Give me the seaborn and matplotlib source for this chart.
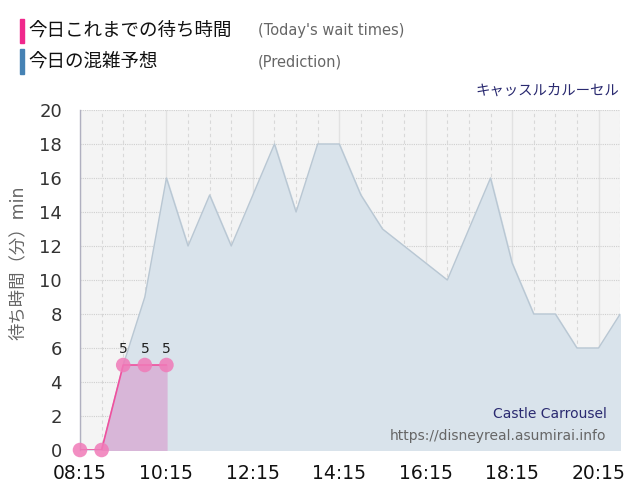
import matplotlib
matplotlib.use("Agg")
import matplotlib.pyplot as plt
import seaborn as sns
import pandas as pd

# prediction every 30 min from 08:15 to 20:45
pred_times = ["08:15", "08:45", "09:15", "09:45", "10:15", "10:45", "11:15", "11:45",
              "12:15", "12:45", "13:15", "13:45", "14:15", "14:45", "15:15", "15:45",
              "16:15", "16:45", "17:15", "17:45", "18:15", "18:45", "19:15", "19:45",
              "20:15", "20:45"]
pred_wait = [0, 0, 5, 9, 16, 12, 15, 12, 15, 18, 14, 18, 18, 15, 13, 12,
             11, 10, 13, 16, 11, 8, 8, 6, 6, 8]

# today's actual wait times
act_times = ["08:15", "08:45", "09:15", "09:45", "10:15"]
act_wait = [0, 0, 5, 5, 5]

tick_labels = ["08:15", "10:15", "12:15", "14:15", "16:15", "18:15", "20:15"]


def to_hours(t):
    h, m = t.split(":")
    return int(h) + int(m) / 60


pred = pd.DataFrame({"x": [to_hours(t) for t in pred_times], "wait": pred_wait})
act = pd.DataFrame({"x": [to_hours(t) for t in act_times], "wait": act_wait})

sns.set_style("white")
plt.rcParams["font.family"] = ["DejaVu Sans", "Noto Sans CJK JP"]

fig = plt.figure(figsize=(6.4, 5.0), dpi=100)
ax = fig.add_axes([0.125, 0.1, 0.844, 0.68])
ax.set_facecolor("#f4f4f4")

# grid
for i in range(0, 26):
    xv = 8.25 + i * 0.5
    if i % 4 == 0:
        ax.axvline(xv, color="#e2e2e2", lw=1.0, zorder=1)
    else:
        ax.axvline(xv, color="#d8d8d8", lw=0.8, ls=(0, (3, 3)), zorder=1)
for yv in range(2, 21, 2):
    ax.axhline(yv, color="#cfcfcf", lw=0.8, ls=(0, (1, 1)), zorder=1)

# prediction area
ax.fill_between(pred["x"], pred["wait"], color="#d9e3eb", zorder=2)
sns.lineplot(data=pred, x="x", y="wait", ax=ax, color="#b9c7d3", lw=1.0, zorder=3)

# actual area
ax.fill_between(act["x"].iloc[1:], act["wait"].iloc[1:], color="#d8b6d8", zorder=4)
sns.lineplot(data=act, x="x", y="wait", ax=ax, color="#f0509e", lw=1.2, zorder=5)
sns.scatterplot(data=act, x="x", y="wait", ax=ax, color="#f07ab8", s=110,
                edgecolor="none", alpha=0.85, zorder=6, clip_on=False)
for xv, yv in zip(act["x"], act["wait"]):
    if yv > 0:
        ax.text(xv, yv + 0.55, str(yv), ha="center", va="bottom", fontsize=10,
                color="#222222", zorder=7)

ax.set_xlim(8.25, 20.75)
ax.set_ylim(0, 20)
ax.set_xticks([to_hours(t) for t in tick_labels])
ax.set_xticklabels(tick_labels, fontsize=13.5, color="#111111")
ax.set_yticks(range(0, 21, 2))
ax.set_yticklabels([str(v) for v in range(0, 21, 2)], fontsize=13, color="#333333")
ax.tick_params(axis="x", length=7, color="#e2e2e2", width=1.0, pad=3)
ax.tick_params(axis="y", length=0, pad=13)
ax.set_xlabel("")
ax.set_ylabel("待ち時間（分）min", fontsize=12.5, color="#666666")
ax.yaxis.set_label_coords(-0.098, 0.55)
for s in ["top", "right", "bottom"]:
    ax.spines[s].set_visible(False)
ax.spines["left"].set_color("#b0b0c0")
ax.spines["left"].set_linewidth(1.0)

# header legend
fig.patches.append(plt.Rectangle((20 / 640, 1 - 43 / 500), 4 / 640, 24 / 500,
                                 transform=fig.transFigure, color="#f0288c"))
fig.patches.append(plt.Rectangle((20 / 640, 1 - 74 / 500), 4 / 640, 25 / 500,
                                 transform=fig.transFigure, color="#4682b4"))
fig.text(28 / 640, 1 - 31 / 500, "今日これまでの待ち時間", fontsize=13.3,
         color="#111111", va="center", family=["Noto Sans CJK JP"])
fig.text(28 / 640, 1 - 62 / 500, "今日の混雑予想", fontsize=13.3,
         color="#111111", va="center", family=["Noto Sans CJK JP"])
fig.text(258 / 640, 1 - 31 / 500, "(Today's wait times)", fontsize=10.5,
         color="#666666", va="center")
fig.text(258 / 640, 1 - 62 / 500, "(Prediction)", fontsize=10.5,
         color="#666666", va="center")
fig.text(619 / 640, 1 - 91 / 500, "キャッスルカルーセル", fontsize=10.4,
         color="#2a2a70", ha="right", va="center", family=["Noto Sans CJK JP"])

# watermark
ax.text(0.975, 0.105, "Castle Carrousel", transform=ax.transAxes, ha="right",
        va="center", fontsize=10, color="#2a2a70", zorder=8)
ax.text(0.975, 0.04, "https://disneyreal.asumirai.info", transform=ax.transAxes,
        ha="right", va="center", fontsize=10, color="#666666", zorder=8)

fig.savefig("out.png", dpi=100)
